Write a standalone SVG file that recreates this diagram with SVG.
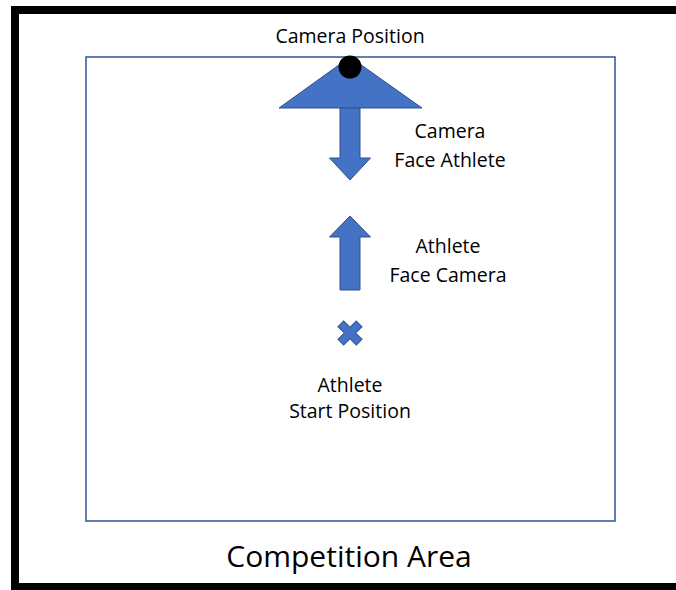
<svg xmlns="http://www.w3.org/2000/svg" width="676" height="590" viewBox="0 0 676 590">
<style>
text{font-family:"Open Sans","Noto Sans","Liberation Sans",sans-serif;fill:#000;text-anchor:middle}
.lbl{font-size:19.5px}
.shape{fill:#4472C4;stroke:#2F528F;stroke-width:1}
</style>
<rect x="0" y="0" width="676" height="590" fill="#fff"/>
<g id="frame">
<rect x="15" y="10" width="675" height="577" fill="none" stroke="#000" stroke-width="8"/>
</g>
<g id="competition-area">
<rect x="86" y="57" width="529" height="464" fill="none" stroke="#2F5597" stroke-width="1.5"/>
<text x="349" y="567" style="font-size:30px">Competition Area</text>
</g>
<g id="camera">
<polygon class="shape" points="350,57 422,108 279,108"/>
<circle cx="350" cy="67" r="11.5" fill="#000"/>
<text class="lbl" x="350" y="43">Camera Position</text>
</g>
<g id="connectors">
<polygon id="camera-face-athlete" class="shape" points="340,108 360,108 360,158 370.5,158 350,180 329.5,158 340,158"/>
<polygon id="athlete-face-camera" class="shape" points="350,216 370.5,237 360,237 360,290 340,290 340,237 329.5,237"/>
</g>
<g id="label-camera-face">
<text class="lbl" x="450" y="138">Camera</text>
<text class="lbl" x="450" y="167">Face Athlete</text>
</g>
<g id="label-athlete-face">
<text class="lbl" x="448" y="253">Athlete</text>
<text class="lbl" x="448" y="282">Face Camera</text>
</g>
<g id="athlete-start">
<path class="shape" transform="rotate(45 350 333)" d="M346,320 H354 V329 H363 V337 H354 V346 H346 V337 H337 V329 H346 Z"/>
<text class="lbl" x="350" y="392">Athlete</text>
<text class="lbl" x="350" y="418">Start Position</text>
</g>
</svg>
